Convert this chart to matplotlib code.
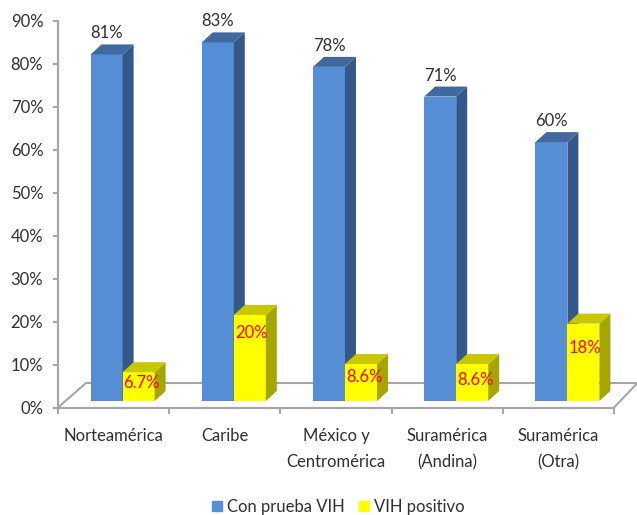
import matplotlib
matplotlib.use('Agg')
import matplotlib.pyplot as plt
from matplotlib.patches import Patch

plt.rcParams['font.family'] = ['Lato', 'DejaVu Sans']

# Data (bar heights are a bit off the printed labels)
categories = ['Norteamérica', 'Caribe', 'México y\nCentromérica', 'Suramérica\n(Andina)', 'Suramérica\n(Otra)']
con_prueba = [80.6, 83.4, 77.7, 70.8, 60.2]
con_labels = ['81%', '83%', '78%', '71%', '60%']
vih_positivo = [6.7, 20, 8.6, 8.6, 18]
vih_labels = ['6.7%', '20%', '8.6%', '8.6%', '18%']
y_ticks = list(range(0, 100, 10))

W, H = 637, 515
fig = plt.figure(figsize=(W / 100, H / 100), dpi=100, facecolor='white')

# Axes placed on the pixel box of the plotted area
left, right, top, bottom = 58, 614, 20.5, 407.5
ax = fig.add_axes([left / W, 1 - bottom / H, (right - left) / W, (bottom - top) / H])
ax.set_xlim(-0.5, 4.5)
ax.set_ylim(0, 90)
ax.patch.set_visible(False)

# pixel -> data scale
px_x = 5 / (right - left)
px_y = 90 / (bottom - top)

# Fake 3D depth of the chart
depth_x = 11 * px_x
depth_y = 10 * px_y
shift_x = 9 * px_x       # front plane of bars vs axis
base = 6.5 * px_y        # bars stand a little above the axis
bar_w = 32 * px_x

GREY = '#A6A6A6'
TEXT = '#303030'
BLUE = ('#558ED5', '#34588A', '#41699F')    # front, side, top
YELL = ('#FFFF00', '#A6A600', '#C8C800')

# how far the red labels hang below the top of their bar, pixels
red_drop = [3, 10, 5, 8, 16]


def bar3d(x0, val, cols):
    """front face with ax.bar, side and top as polygons"""
    y0, y1 = base, base + val
    x1 = x0 + bar_w
    ax.bar(x0, val, width=bar_w, bottom=base, align='edge', color=cols[0], lw=0, zorder=3)
    ax.fill([x1, x1 + depth_x, x1 + depth_x, x1],
            [y0, y0 + depth_y, y1 + depth_y, y1], color=cols[1], lw=0, zorder=3)
    ax.fill([x0, x0 + depth_x, x1 + depth_x, x1],
            [y1, y1 + depth_y, y1 + depth_y, y1], color=cols[2], lw=0, zorder=3)


# floor
floor_x = [-0.5, -0.5 + 28 * px_x, 4.5 + 23 * px_x]
floor_y = [0, 24.5 * px_y, 24.5 * px_y]
ax.plot(floor_x, floor_y, color=GREY, lw=1.5, clip_on=False, zorder=1)
ax.plot([4.5, 4.5 + 23 * px_x], [0, 24 * px_y], color=GREY, lw=1.5, clip_on=False, zorder=1)

for i, (a, b) in enumerate(zip(con_prueba, vih_positivo)):
    xc = i + shift_x
    bar3d(xc - bar_w, a, BLUE)
    bar3d(xc, b, YELL)
    ax.text(xc - bar_w + 16 * px_x, base + a + depth_y + 3 * px_y, con_labels[i], ha='center', va='bottom',
            fontsize=12, color=TEXT, zorder=5)
    # red labels sit on the yellow front face
    ax.text(xc + 1 * px_x, base + b - red_drop[i] * px_y, vih_labels[i], ha='left', va='top',
            fontsize=12, color='#FF0000', zorder=5)

ax.spines['top'].set_visible(False)
ax.spines['right'].set_visible(False)
for s in ('left', 'bottom'):
    ax.spines[s].set_color(GREY)
    ax.spines[s].set_linewidth(1.6)

ax.set_yticks(y_ticks)
ax.set_yticklabels([f'{v}%' for v in y_ticks], fontsize=12, color=TEXT)
ax.tick_params(axis='y', length=3.6, width=1.4, color=GREY, pad=7)

ax.set_xticks([i - 0.5 for i in range(6)])
ax.set_xticklabels([])
ax.tick_params(axis='x', which='major', length=4.3, width=1.4, color=GREY)
ax.set_xticks(range(5), minor=True)
ax.set_xticklabels(categories, minor=True, fontsize=12, color=TEXT, linespacing=1.78)
ax.tick_params(axis='x', which='minor', length=0, pad=14.5)

handles = [Patch(color=BLUE[0], label='Con prueba VIH'), Patch(color=YELL[0], label='VIH positivo')]
fig.legend(handles=handles, loc='center', bbox_to_anchor=(338.5 / W, 1 - 507 / H), ncol=2, frameon=False,
           fontsize=12, handlelength=0.6, handleheight=0.6, handletextpad=0.3,
           columnspacing=0.84, labelcolor=TEXT, borderpad=0)

fig.savefig('out.png', dpi=100)
